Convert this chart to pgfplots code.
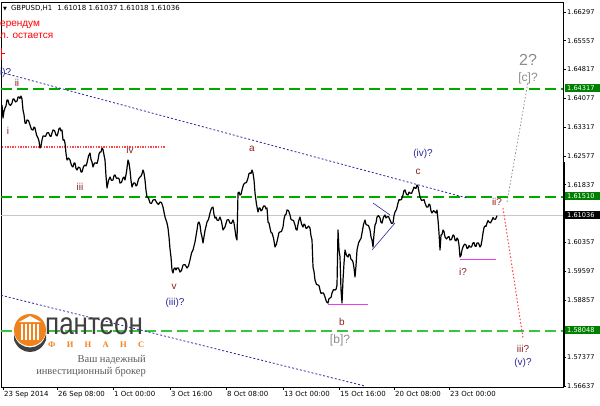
\documentclass[border=0pt]{standalone}
\usepackage{pgfplots}
\pgfplotsset{compat=1.18}
\usepackage{fontspec}
\setmainfont{DejaVu Sans}
\newfontfamily\lib{Liberation Sans}
\newfontfamily\libserif{Liberation Serif}
\definecolor{mtgreen}{RGB}{0,170,0}
\definecolor{boxgreen}{RGB}{0,128,0}
\definecolor{mtgreenl}{RGB}{60,195,60}
\definecolor{wavered}{RGB}{140,30,30}
\definecolor{waveblue}{RGB}{40,40,150}
\definecolor{wavegray}{RGB}{140,140,140}
\definecolor{trend}{RGB}{40,40,160}
\definecolor{mpink}{RGB}{235,60,235}
\definecolor{dotred}{RGB}{255,70,70}
\definecolor{logoorange}{RGB}{240,130,30}
\begin{document}
\begin{tikzpicture}
\begin{axis}[
  scale only axis, width=562bp, height=385bp,
  xmin=1, xmax=563, ymin=1.56611, ymax=1.66555,
  clip=false, no markers,
  axis line style={black, line width=0.6bp},
  tick align=outside, major tick length=3bp,
  tick style={black, line width=0.5bp},
  xtick pos=left, ytick pos=right, yticklabel pos=right,
  xtick={3,57,113,170,226,283,339,394,449},
  xticklabels={23 Sep 2014,26 Sep 08:00,1 Oct 00:00,3 Oct 16:00,8 Oct 08:00,13 Oct 00:00,15 Oct 16:00,20 Oct 08:00,23 Oct 00:00},
  xticklabel style={anchor=north west, inner sep=0pt, xshift=1bp, yshift=-1bp, font=\fontsize{7bp}{8bp}\selectfont},
  ytick={1.66297,1.65557,1.64817,1.64077,1.63317,1.62577,1.61837,1.60357,1.59597,1.58857,1.57377,1.56637},
  yticklabels={1.66297,1.65557,1.64817,1.64077,1.63317,1.62577,1.61837,1.60357,1.59597,1.58857,1.57377,1.56637},
  yticklabel style={anchor=west, inner sep=0pt, xshift=1bp, font=\fontsize{6.6bp}{8bp}\selectfont},
]
\coordinate (O) at (axis cs:0,1.66607);
% levels
\addplot[gray!45, line width=0.8bp] coordinates {(1,1.61036)(563,1.61036)};
\addplot[mtgreen, line width=1.8bp, dash pattern=on 11bp off 5bp] coordinates {(1,1.64317)(563,1.64317)};
\addplot[mtgreen, line width=1.8bp, dash pattern=on 11bp off 5bp] coordinates {(1,1.61510)(563,1.61510)};
\addplot[mtgreenl, line width=1.8bp, dash pattern=on 11bp off 5bp] coordinates {(1,1.58048)(563,1.58048)};
\addplot[dotred, line width=1.3bp, dash pattern=on 1.3bp off 1.3bp] coordinates {(2,1.62810)(165,1.62810)};
% channel
\addplot[trend, line width=0.8bp, dash pattern=on 2bp off 2bp] coordinates {(1,1.64740)(467,1.61493)};
\addplot[trend, line width=0.8bp, dash pattern=on 2bp off 2bp] coordinates {(1,1.58982)(365,1.56637)};
% price
\addplot[black, line width=1.2bp, line join=round] coordinates {
(2,1.63895)(3,1.63559)(4,1.63739)(5,1.63818)(6,1.63871)(7,1.64024)(8,1.64023)(9,1.63921)(10.5,1.63884)(12,1.63947)
(13,1.64049)(14,1.64050)(15.5,1.63974)(17,1.63998)(18,1.64100)(19,1.64102)(20,1.64065)(21,1.64127)(22,1.64050)(23,1.63766)
(24,1.63648)(25,1.63430)(26,1.63419)(27,1.63508)(28.5,1.63493)(30,1.63378)(31.5,1.63264)(33,1.63249)(34,1.63325)(35,1.63301)
(36.5,1.63122)(38,1.63043)(39,1.62964)(40,1.62784)(41,1.62838)(42,1.62991)(43,1.63093)(44,1.63094)(45.5,1.63083)(47,1.63172)
(48.5,1.63183)(50,1.63094)(51,1.63083)(52,1.63172)(53,1.63249)(54.5,1.63235)(56,1.63120)(57,1.63096)(58,1.63172)(59,1.63287)
(60,1.63301)(61,1.63225)(62,1.63249)(63,1.62991)(64,1.63002)(65,1.62913)(66,1.62644)(67,1.62474)(68.5,1.62524)(70,1.62474)
(71.5,1.62334)(73,1.62294)(74,1.62396)(75,1.62397)(76,1.62257)(77,1.62216)(78.5,1.62292)(80,1.62268)(81,1.62166)(82,1.62164)
(83.5,1.62305)(85,1.62345)(86,1.62321)(87,1.62397)(88.5,1.62576)(90,1.62655)(91,1.62489)(92,1.62423)(93,1.62294)(94.5,1.62396)
(96,1.62397)(97,1.62386)(98,1.62474)(99,1.62628)(100,1.62681)(101,1.62683)(102,1.62784)(103,1.62744)(104,1.62604)(105,1.62474)
(106,1.62063)(107,1.61751)(108.5,1.61943)(110,1.62035)(111.5,1.61947)(113,1.61958)(114,1.62073)(115,1.62087)(116.5,1.61998)(118,1.62009)
(119,1.61995)(120,1.61880)(121.5,1.61895)(123,1.62009)(124,1.62034)(125,1.61958)(126.5,1.62166)(128,1.62474)(129,1.62395)(130,1.62216)
(131,1.61947)(132,1.61777)(133.5,1.61879)(135,1.61880)(136,1.61805)(137,1.61829)(138.5,1.61982)(140,1.62035)(141.5,1.62076)(143,1.62216)
(144,1.62137)(145,1.61958)(146,1.61689)(147,1.61519)(148.5,1.61492)(150,1.61364)(151.5,1.61353)(153,1.61441)(155,1.61453)(157,1.61364)
(158.5,1.61327)(160,1.61390)(161.5,1.61375)(163,1.61260)(165,1.61004)(167,1.60847)(168,1.60717)(169,1.60486)(170,1.60178)(171,1.59969)
(172,1.59633)(173,1.59556)(174,1.59671)(175,1.59685)(176,1.59635)(177,1.59685)(178.5,1.59683)(180,1.59581)(181.5,1.59622)(183,1.59762)
(185,1.59774)(187,1.59685)(188.5,1.59739)(190,1.59892)(191.5,1.60071)(193,1.60150)(195,1.60358)(197,1.60666)(198,1.60847)(199,1.60872)
(200,1.60796)(201,1.60591)(202,1.60486)(203,1.60331)(205,1.60652)(207,1.60873)(208.5,1.60939)(210,1.61105)(211.5,1.61233)(213,1.61260)
(214,1.61068)(215,1.60976)(216,1.61001)(217,1.60925)(218.5,1.60914)(220,1.61002)(221.5,1.60884)(223,1.60666)(225,1.60746)(227,1.60925)
(228.5,1.60936)(230,1.60847)(231.5,1.60836)(233,1.60925)(234,1.60846)(235,1.60666)(236,1.60487)(237,1.60408)(238,1.61622)(239,1.61646)
(240,1.61570)(241,1.61585)(242,1.61700)(243.5,1.61840)(245,1.61880)(246.5,1.61895)(248,1.62009)(249,1.62124)(250,1.62139)(251,1.62128)
(252,1.62216)(253,1.62137)(254,1.61958)(255,1.61622)(256.5,1.61327)(258,1.61131)(259,1.61233)(260,1.61235)(261,1.61159)(262,1.61183)
(263.5,1.61285)(265,1.61286)(266,1.61211)(267,1.61235)(268,1.60873)(269,1.60846)(270,1.60718)(271,1.60604)(272,1.60589)(273.5,1.60458)
(275,1.60227)(276.5,1.60307)(278,1.60486)(279,1.60601)(280,1.60615)(281.5,1.60630)(283,1.60744)(284,1.60949)(285,1.61054)(286,1.61069)
(287,1.61183)(288.5,1.61169)(290,1.61054)(291,1.60940)(292,1.60925)(293.5,1.60911)(295,1.60796)(296,1.60681)(297,1.60666)(298.5,1.60884)
(300,1.61002)(301.5,1.60823)(303,1.60744)(304,1.60820)(305,1.60796)(306,1.60707)(307,1.60718)(308.5,1.60768)(310,1.60718)(311,1.60513)
(312,1.60408)(313,1.59711)(314,1.59593)(315,1.59375)(316.5,1.59261)(318,1.59246)(319,1.59232)(320,1.59117)(321,1.59028)(322,1.59039)
(323.5,1.59038)(325,1.58936)(326.5,1.58809)(328,1.58781)(329,1.58896)(330,1.58910)(331,1.58925)(332,1.59039)(333.5,1.59128)(335,1.59117)
(336,1.59132)(337,1.59246)(338,1.60666)(339,1.60150)(340,1.59969)(341,1.59117)(342,1.58781)(343,1.59375)(344,1.59813)(345,1.60150)
(346.5,1.60010)(348,1.59969)(349,1.60045)(350,1.60021)(351,1.59907)(352,1.59892)(353,1.59839)(354,1.59685)(355,1.59452)(356,1.59751)
(357,1.60150)(358.5,1.60329)(360,1.60408)(361,1.60449)(362,1.60589)(363.5,1.60807)(365,1.60925)(366,1.60811)(367,1.60796)(368.5,1.60781)
(370,1.60666)(371,1.60487)(372,1.60408)(373,1.60227)(374,1.60562)(375,1.60796)(376,1.60849)(377,1.61002)(378.5,1.61039)(380,1.60976)
(381,1.60862)(382,1.60847)(383.5,1.61001)(385,1.61054)(386,1.60978)(387,1.61002)(388.5,1.61014)(390,1.60925)(391.5,1.60836)(393,1.60847)
(394,1.61039)(395,1.61131)(396.5,1.61198)(398,1.61364)(399,1.61453)(400,1.61441)(401.5,1.61456)(403,1.61570)(404,1.61685)(405,1.61700)
(406.5,1.61585)(408,1.61570)(409,1.61646)(410,1.61622)(411.5,1.61611)(413,1.61700)(414,1.61776)(415,1.61751)(416,1.61740)(417,1.61829)
(418,1.61789)(419,1.61648)(420,1.61519)(421.5,1.61430)(423,1.61441)(424,1.61453)(425,1.61364)(426.5,1.61262)(428,1.61260)(429,1.61336)
(430,1.61312)(431,1.61159)(432,1.61105)(433.5,1.61168)(435,1.61131)(436,1.61107)(437,1.61183)(438,1.60925)(439,1.60588)(440,1.60150)
(441,1.60537)(442,1.60552)(443,1.60666)(444,1.60626)(445,1.60486)(446.5,1.60436)(448,1.60486)(449,1.60497)(450,1.60408)(451.5,1.60423)
(453,1.60537)(454,1.60523)(455,1.60408)(456,1.60384)(457,1.60460)(458,1.60420)(459,1.60279)(460,1.59969)(461,1.60010)(462,1.60150)
(463,1.60227)(464.5,1.60303)(466,1.60279)(467,1.60190)(468,1.60201)(469,1.60264)(470,1.60227)(471.5,1.60229)(473,1.60331)(474,1.60342)
(475,1.60253)(476,1.60242)(477,1.60331)(478.5,1.60329)(480,1.60227)(481,1.60268)(482,1.60408)(483,1.60589)(484,1.60730)(485,1.60770)
(486,1.60759)(487,1.60847)(488,1.60910)(489,1.60873)(490.5,1.60849)(492,1.60925)(493,1.60988)(494,1.60950)(495.5,1.60943)(497,1.61036)
};
% markup lines
\addplot[mpink, line width=1bp] coordinates {(328,1.58755)(368,1.58755)};
\addplot[mpink, line width=1bp] coordinates {(460,1.59917)(496,1.59917)};
\addplot[trend, line width=0.6bp] coordinates {(373,1.61364)(390,1.61054)};
\addplot[trend, line width=0.6bp] coordinates {(372,1.60150)(395,1.60847)};
\addplot[dotred, line width=1bp, dash pattern=on 1.5bp off 2bp] coordinates {(503,1.61235)(523,1.57877)};
\addplot[gray, line width=0.7bp, dash pattern=on 1.5bp off 2bp] coordinates {(507,1.61390)(528,1.64489)};
\end{axis}
\begin{scope}[shift={(O)}, x=1bp, y=-1bp]
  % right axis thick part
  \draw[line width=2.2bp] (563.6,162)--(563.6,387);
  % price boxes
  \tikzset{pbox/.style={anchor=west, inner xsep=2.5bp, inner ysep=1.2bp, text=white, font=\fontsize{6.6bp}{7bp}\selectfont, minimum width=35bp, align=left, text width=30bp}}
  \node[pbox, fill=boxgreen] at (564.5,88) {1.64317};
  \node[pbox, fill=boxgreen] at (564.5,196) {1.61510};
  \node[pbox, fill=black] at (564.5,215) {1.61036};
  \node[pbox, fill=boxgreen] at (564.5,330) {1.58048};
  % header
  \node[anchor=west, inner sep=0pt, font=\fontsize{7bp}{8bp}\selectfont] at (3,8) {{\fontsize{5bp}{6bp}\selectfont ▼}\hspace{4bp}GBPUSD,H1\hspace{5bp}1.61018 1.61037 1.61018 1.61036};
  \node[anchor=west, inner sep=0pt, text=red, font=\lib\fontsize{10bp}{11bp}\selectfont] at (0,25) {ерендум};
  \node[anchor=west, inner sep=0pt, text=red, font=\lib\fontsize{10bp}{11bp}\selectfont] at (0,36) {л. остается};
  \draw[red, line width=0.8bp] (1.5,48)--(1.5,60) (1.5,53)--(5,53);
  % wave labels
  \tikzset{wl/.style={inner sep=0pt, font=\lib\fontsize{10bp}{11bp}\selectfont}}
  \node[wl, text=waveblue, anchor=west] at (0,73) {i)?};
  \node[wl, text=wavered] at (17,83) {ii};
  \node[wl, text=wavered] at (8,131) {i};
  \node[wl, text=wavered] at (80,187) {iii};
  \node[wl, text=wavered] at (130,150) {iv};
  \node[wl, text=wavered] at (174,287) {v};
  \node[wl, text=waveblue] at (175,303) {(iii)?};
  \node[wl, text=wavered] at (252,149) {a};
  \node[wl, text=wavered] at (342,322) {b};
  \node[wl, text=wavegray, font=\lib\fontsize{12bp}{13bp}\selectfont] at (340,340) {[b]?};
  \node[wl, text=wavered] at (418,172) {c};
  \node[wl, text=waveblue] at (423,154) {(iv)?};
  \node[wl, text=wavered] at (497,202) {ii?};
  \node[wl, text=wavered] at (463,272) {i?};
  \node[wl, text=wavegray, font=\lib\fontsize{16bp}{17bp}\selectfont] at (528,60) {2?};
  \node[wl, text=wavegray, font=\lib\fontsize{12bp}{13bp}\selectfont] at (528,78) {[c]?};
  \node[wl, text=wavered] at (523,349) {iii?};
  \node[wl, text=waveblue] at (523,363) {(v)?};
  % logo
  \fill[logoorange] (30,330) circle (16);
  \fill[white] (19,322) -- (30,316) -- (41,322) -- cycle;
  \foreach \cx in {21,25,29,33,37} {\fill[white] (\cx,324) rectangle (\cx+2,340);}
  \fill[black!75] (14,334) .. controls (18,352) and (42,352) .. (46,334) -- (46,340) .. controls (40,356) and (20,356) .. (14,340) -- cycle;
  \node[anchor=west, inner sep=0pt, text=black!75, font=\lib\fontsize{26bp}{28bp}\selectfont, yscale=1.2] at (45,326) {пантеон};
  \node[anchor=west, inner sep=0pt, text=logoorange, font=\libserif\bfseries\fontsize{8.5bp}{9bp}\selectfont] at (48,345) {\makebox[96bp][s]{Ф\hfill И\hfill Н\hfill А\hfill Н\hfill С}};
  \node[anchor=east, inner sep=0pt, text=black!65, font=\libserif\fontsize{10.5bp}{11bp}\selectfont] at (146,360) {Ваш надежный};
  \node[anchor=east, inner sep=0pt, text=black!65, font=\libserif\fontsize{10.5bp}{11bp}\selectfont] at (146,372) {инвестиционный брокер};
  \coordinate (BR) at (600,405);
\end{scope}
\pgfresetboundingbox
\path[use as bounding box] (O) rectangle (BR);
\end{tikzpicture}
\end{document}
